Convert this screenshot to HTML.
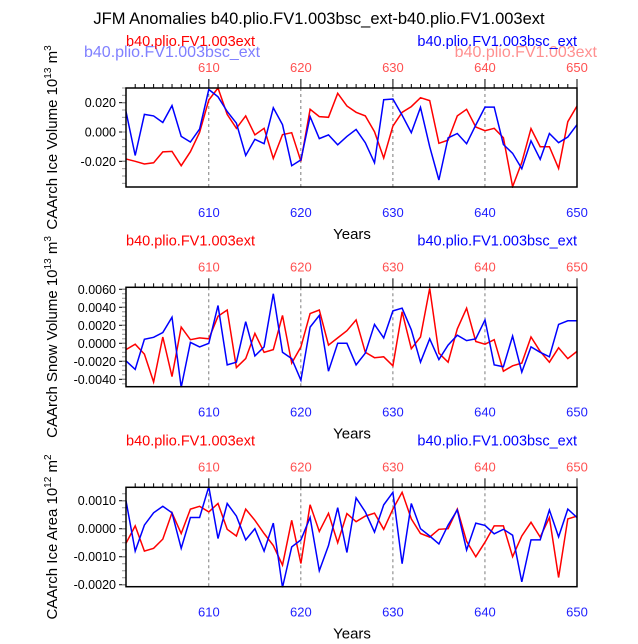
<!DOCTYPE html>
<html><head><meta charset="utf-8"><style>
body{margin:0;background:#fff;width:638px;height:639px;overflow:hidden}
svg text{font-family:"Liberation Sans",Helvetica,sans-serif}
</style></head><body>
<svg id="chart" width="638" height="639" viewBox="0 0 638 639" xmlns="http://www.w3.org/2000/svg">
<text x="319" y="24" font-size="16.5" text-anchor="middle">JFM Anomalies b40.plio.FV1.003bsc_ext-b40.plio.FV1.003ext</text>
</svg>
<script>
const years = [];
for (let y = 601; y <= 650; y++) years.push(y);
const iceVolBlue = [0.014,-0.016,0.012,0.011,0.0065,0.018,-0.003,-0.0068,0.002,0.029,0.024,0.014,0.006,-0.016,-0.005,-0.008,0.0165,0.005,-0.023,-0.019,0.0105,-0.0045,-0.002,-0.0087,-0.003,0.0018,-0.0073,-0.021,0.022,0.0225,0.0115,-0.0005,0.0168,-0.01,-0.0327,-0.004,-0.001,-0.008,0.0048,0.017,0.017,-0.0085,-0.0145,-0.025,-0.006,-0.0186,-0.001,-0.0073,-0.0034,0.005];
const iceVolRed = [-0.0184,-0.02,-0.0218,-0.021,-0.0136,-0.0132,-0.023,-0.0134,-0.0002,0.0218,0.03,0.012,0.0025,0.011,-0.002,0.0025,-0.018,-0.0018,-0.0005,-0.02,0.0155,0.0105,0.01,0.0264,0.0177,0.0134,0.011,0.0002,-0.0177,0.004,0.0134,0.0173,0.0234,0.0214,-0.0077,-0.0055,0.011,0.0155,0.0034,0.0009,0.0025,-0.0039,-0.0373,-0.0207,0.0023,-0.01,-0.01,-0.0248,0.007,0.0177];
const snowBlue = [-0.00196,-0.0029,0.00044,0.00067,0.0012,0.0029,-0.0049,0.0001,-0.0004,0.0,0.0042,-0.0024,-0.0021,0.0024,-0.0014,-0.0004,0.0055,-0.001,-0.0017,-0.0041,0.0018,0.0031,-0.0031,0,0,-0.0024,-0.0011,0.0021,0.0006,0.0036,0.0039,0.0015,-0.0021,0.0005,-0.0018,-0.0002,0.0009,0.0003,0.0005,0.0026,-0.0024,-0.0026,0.0008,-0.0032,-0.0004,-0.001,-0.0015,0.0021,0.0025,0.0025];
const snowRed = [-0.0007,-0.0001,-0.0012,-0.0043,0.0007,-0.0037,0.0018,0.0004,0.0006,0.0005,0.003,0.0037,-0.0027,-0.0017,0.0011,-0.001,-0.0007,0.0031,-0.0022,-0.0004,0.0033,0.0037,-0.0002,0.0006,0.0014,0.0026,-0.001,-0.0016,-0.0015,-0.0025,0.0035,-0.0006,0.0007,0.0061,-0.0011,-0.0021,0.0016,0.0039,0.0002,-0.0001,0.0004,-0.0031,-0.0025,-0.0022,0.0007,-0.0009,-0.0021,-0.0005,-0.0017,-0.0009];
const areaBlue = [0.001,-0.0008,0.00013,0.00057,0.0008,0.00057,-0.0007,0.0004,0.0004,0.0015,-0.00035,0.0009,0.00045,-0.0004,0,-0.0008,0.0002,-0.0021,-0.00065,-0.0004,0.0004,-0.0015,-0.0006,0.00075,-0.00085,0.0011,0.0006,-0.00012,0.00085,0.0013,-0.00125,0.0009,0,-0.00026,-0.00054,0.00013,0.00067,-0.00076,0.0002,0.00012,-0.00018,-0.00002,-0.00023,-0.0019,-0.0004,-0.0004,0.00067,-0.00029,0.0007,0.0004];
const areaRed = [-0.00052,0.0001,-0.0008,-0.0007,-0.00037,0.00057,-0.00017,0.0007,0.0008,0.0006,0.0009,-0.00002,-0.00026,0.0007,0.0003,-0.00017,-0.0006,-0.0013,0.0003,-0.00124,0.00086,-0.0001,0.00055,-0.0005,0.00054,0.00025,0.00045,0.00056,-0.00002,0.0007,0.0013,0.00035,-0.00017,-0.0003,-0.00002,0,0.0007,-0.00045,-0.001,-0.00048,0.0001,0.0001,-0.001,-0.00026,0.00023,-0.0003,0.0004,-0.00174,0.00035,0.00045];
const xTickLabels = ["610","620","630","640","650"];
const iceVolTicks = ["0.020","0.000","-0.020"];
const snowTicks = ["0.0060","0.0040","0.0020","0.0000","-0.0020","-0.0040"];
const areaTicks = ["0.0010","0.0000","-0.0010","-0.0020"];

const svg = document.getElementById('chart');
const NS = 'http://www.w3.org/2000/svg';
function mk(tag, attrs, parent){const e=document.createElementNS(NS,tag);for(const k in attrs)e.setAttribute(k,attrs[k]);(parent||svg).appendChild(e);return e;}
const X0=126,X1=577,Y0=601,Y1=650;
const xs = y => X0 + (y-Y0)/(Y1-Y0)*(X1-X0);

function panel(name, top, bot, vmax, vmin, ticks, minorStep, blue, red, ylabel, sup, unitSup, faded){
  const g = mk('g',{});
  
  
  const ys = v => top + (vmax-v)/(vmax-vmin)*(bot-top);
  [610,620,630,640].forEach(yr=>{
    const l=mk('line',{x1:xs(yr),x2:xs(yr),y1:top,y2:bot,stroke:'#444','stroke-width':0.7,'stroke-dasharray':'3,3'},g);
    
    
  });
  for(let yr=602; yr<=650; yr++){
    const major = yr%10===0;
    mk('line',{x1:xs(yr),x2:xs(yr),y1:top,y2:top-(major?9:4),stroke:'#000','stroke-width':1},g);
  }
  const tv = ticks.map(Number);
  tv.forEach((v,i)=>{
    mk('line',{x1:X0,x2:X0-7,y1:ys(v),y2:ys(v),stroke:'#000','stroke-width':1},g);
    const t=mk('text',{x:X0-10,y:ys(v)+4.5,'font-size':12.5,'text-anchor':'end'},g);
    t.textContent=ticks[i];
    
    
  });
  const start = Math.ceil(vmin/minorStep)*minorStep;
  for(let v=start; v<=vmax+1e-12; v+=minorStep){
    mk('line',{x1:X0,x2:X0-4,y1:ys(v),y2:ys(v),stroke:'#999','stroke-width':1},g);
  }
  xTickLabels.forEach(s=>{
    const t=mk('text',{x:xs(+s),y:top-16,'font-size':13,'text-anchor':'middle',fill:'#ff5050'},g);
    t.textContent=s;
    
    
    const b=mk('text',{x:xs(+s),y:bot+30,'font-size':13,'text-anchor':'middle',fill:'#2020ff'},g);
    b.textContent=s;
    
    
  });
  const cp=mk('clipPath',{id:'clip-'+name},g);
  mk('rect',{x:X0,y:top-1,width:X1-X0,height:bot-top+2},cp);
  [[red,'#ff0000','red-series'],[blue,'#0000ff','blue-series']].forEach(([arr,c,n])=>{
    const d = arr.map((v,i)=>(i?'L':'M')+xs(years[i]).toFixed(1)+','+ys(v).toFixed(1)).join(' ');
    const p=mk('path',{d:d,fill:'none',stroke:c,'stroke-width':1.5,'clip-path':'url(#clip-'+name+')'},g);
    
    
  });
  const fr=mk('rect',{x:X0,y:top,width:X1-X0,height:bot-top,fill:'none',stroke:'#000','stroke-width':1.5},g);
  
  
  if(faded){
    const f1=mk('text',{x:84,y:57,'font-size':16,fill:'#8080ff'},g);f1.textContent='b40.plio.FV1.003bsc_ext';
    
    
    const f2=mk('text',{x:597,y:57,'font-size':16,'text-anchor':'end',fill:'#ff9090'},g);f2.textContent='b40.plio.FV1.003ext';
    
    
  }
  const l1=mk('text',{x:X0,y:top-42,'font-size':14.5,fill:'#ff0000'},g);l1.textContent='b40.plio.FV1.003ext';
  
  
  const l2=mk('text',{x:X1,y:top-42,'font-size':14.5,'text-anchor':'end',fill:'#0000ff'},g);l2.textContent='b40.plio.FV1.003bsc_ext';
  
  
  const xt=mk('text',{x:352,y:bot+52,'font-size':15,'text-anchor':'middle'},g);xt.textContent='Years';
  
  
  const cy=(top+bot)/2;
  const yt=mk('text',{x:0,y:0,'font-size':15,'text-anchor':'middle',transform:'translate(57,'+cy+') rotate(-90)'},g);
  
  
  yt.innerHTML = ylabel+' 10<tspan dy="-6" font-size="10">'+sup+'</tspan><tspan dy="6"> m</tspan><tspan dy="-6" font-size="10">'+unitSup+'</tspan>';
}
panel('ice-volume',88,187,0.030,-0.0375,iceVolTicks,0.005,iceVolBlue,iceVolRed,'CAArch Ice Volume','13','3',true);
panel('snow-volume',287.3,386.7,0.00622,-0.00482,snowTicks,0.0005,snowBlue,snowRed,'CAArch Snow Volume','13','3',false);
panel('ice-area',487.3,586.7,0.00148,-0.00207,areaTicks,0.00025,areaBlue,areaRed,'CAArch Ice Area','12','2',false);
</script>
</body></html>
